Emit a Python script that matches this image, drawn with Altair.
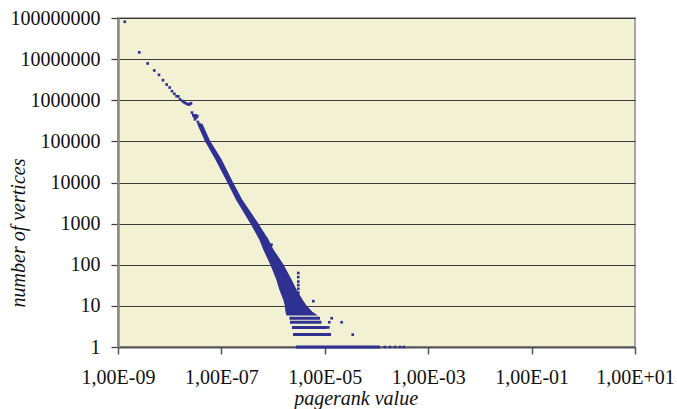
import altair as alt
import pandas as pd

# ---- data ----
# isolated points (pagerank value, number of vertices)
pts_x = [1.35e-9, 2.58e-9, 3.75e-9, 5.03e-9, 6.2e-9, 7.4e-9, 8.75e-9, 1.0e-8, 1.11e-8,
         1.23e-8, 1.36e-8, 1.47e-8, 1.58e-8, 1.75e-8, 1.89e-8, 2.04e-8, 2.19e-8, 2.33e-8,
         2.47e-8, 2.58e-8, 2.70e-8, 2.86e-8, 2.99e-8, 3.18e-8, 3.27e-8, 3.42e-8, 3.08e-8,
         3.52e-8, 3.74e-8, 3.98e-8,
         7.3e-7, 9.3e-7, 3.07e-6, 3.07e-6, 3.07e-6, 3.07e-6, 3.07e-6, 3.07e-6, 6.0e-6,
         1.36e-5, 1.22e-5, 2.12e-5, 1.17e-5, 3.47e-5,
         1.46e-4, 1.82e-4, 2.28e-4, 2.85e-4, 3.40e-4]
pts_y = [8.1e7, 1.46e7, 7.85e6, 5.3e6, 4.14e6, 3.08e6, 2.41e6, 2.04e6, 1.66e6,
         1.43e6, 1.25e6, 1.24e6, 1.05e6, 9.6e5, 8.9e5, 8.45e5, 8.1e5, 7.85e5,
         8.1e5, 8.45e5, 5.0e5, 4.3e5, 4.0e5, 4.3e5, 3.8e5, 4.1e5, 3.44e5,
         2.96e5, 2.6e5, 2.29e5,
         430, 307, 63, 50, 39, 32, 26, 21, 13,
         5, 4, 4, 3, 2,
         1, 1, 1, 1, 1]

# dense band of points: for each count level, the range of pagerank values covered
band_y = [2.6e5, 1.02e5, 3.64e4, 1.06e4, 3850, 1060, 407, 232, 100, 43, 24.6, 14, 10, 7, 6]
band_xmin = [3.52e-8, 4.92e-8, 7.87e-8, 1.31e-7, 1.96e-7, 3.66e-7, 5.58e-7, 6.67e-7,
             9.1e-7, 1.19e-6, 1.36e-6, 1.62e-6, 1.74e-6, 1.78e-6, 1.86e-6]
band_xmax = [4.22e-8, 5.89e-8, 9.82e-8, 1.60e-7, 2.45e-7, 4.89e-7, 7.96e-7, 9.95e-7,
             1.55e-6, 2.22e-6, 2.77e-6, 3.62e-6, 4.33e-6, 5.65e-6, 6.76e-6]

# discrete low-count rows
row_y = [5, 4, 3, 2, 1]
row_xmin = [2.07e-6, 2.12e-6, 2.32e-6, 2.43e-6, 2.77e-6]
row_xmax = [8.07e-6, 8.63e-6, 1.10e-5, 1.32e-5, 1.17e-4]

x_ticks = [1e-9, 1e-7, 1e-5, 1e-3, 1e-1, 10]
x_labels = ["1,00E-09", "1,00E-07", "1,00E-05", "1,00E-03", "1,00E-01", "1,00E+01"]
y_ticks = [1, 10, 100, 1000, 10000, 100000, 1000000, 10000000, 100000000]

pts = pd.DataFrame({"x": pts_x, "y": pts_y})
band = pd.DataFrame({"y": band_y, "x1": band_xmin, "x2": band_xmax})
rows = pd.DataFrame({"y": row_y, "x1": row_xmin, "x2": row_xmax})

BLUE = "#2E3191"
FONT = "Liberation Serif"

label_expr = "[" + ",".join("'%s'" % s for s in x_labels) + "][round((log(datum.value)/LN10+9)/2)]"

xscale = alt.Scale(type="log", domain=[1e-9, 10], nice=False)
yscale = alt.Scale(type="log", domain=[1, 1e8], nice=False)

xaxis = alt.Axis(values=x_ticks, labelExpr=label_expr, title="pagerank value",
                 grid=False, domainColor="#555555", domainWidth=2,
                 tickColor="#555555", tickSize=7, tickWidth=1.5,
                 labelFont=FONT, labelFontSize=20, labelColor="#111111", labelPadding=13,
                 labelFlush=False, labelOverlap=False,
                 titleFont=FONT, titleFontSize=20, titleFontStyle="italic",
                 titleFontWeight="normal", titleColor="#111111",
                 titleX=237.6, titleY=57, titleAnchor="middle", titleAlign="center",
                 titleBaseline="alphabetic", zindex=0)
yaxis = alt.Axis(values=y_ticks, format="d", title="number of vertices",
                 grid=True, gridColor="#3a3a3a", gridWidth=1.2,
                 domainColor="#8a8a8a", domainWidth=2.5,
                 tickColor="#3a3a3a", tickSize=7, tickWidth=1.2,
                 labelFont=FONT, labelFontSize=20, labelColor="#111111", labelPadding=11,
                 labelFlush=False, labelOverlap=False,
                 titleFont=FONT, titleFontSize=20, titleFontStyle="italic",
                 titleFontWeight="normal", titleColor="#111111",
                 titleAngle=-90, titleX=-94, titleY=214.5, titleAlign="center",
                 titleBaseline="alphabetic", zindex=0)

area = alt.Chart(band).mark_area(orient="horizontal", color=BLUE, stroke=BLUE,
                                 strokeWidth=1.2).encode(
    y=alt.Y("y:Q", scale=yscale, axis=yaxis, stack=None),
    x=alt.X("x1:Q", scale=xscale, axis=xaxis, stack=None),
    x2="x2:Q",
)

rules = alt.Chart(rows).mark_rule(color=BLUE, strokeWidth=3).encode(
    y=alt.Y("y:Q", scale=yscale),
    x=alt.X("x1:Q", scale=xscale),
    x2="x2:Q",
)

points = alt.Chart(pts).mark_point(shape="square", filled=True, color=BLUE,
                                   size=7, opacity=1).encode(
    x=alt.X("x:Q", scale=xscale),
    y=alt.Y("y:Q", scale=yscale),
)

chart = alt.layer(area, rules, points).properties(
    width=517, height=329,
    autosize=alt.AutoSizeParams(type="none"),
    padding={"left": 118, "top": 18, "right": 42, "bottom": 62},
    background="white",
).configure_view(
    fill="#F3F1D3", stroke="#a6a6a6", strokeWidth=2,
)

chart.save("out.html", embed_options={"renderer": "svg", "actions": False})
